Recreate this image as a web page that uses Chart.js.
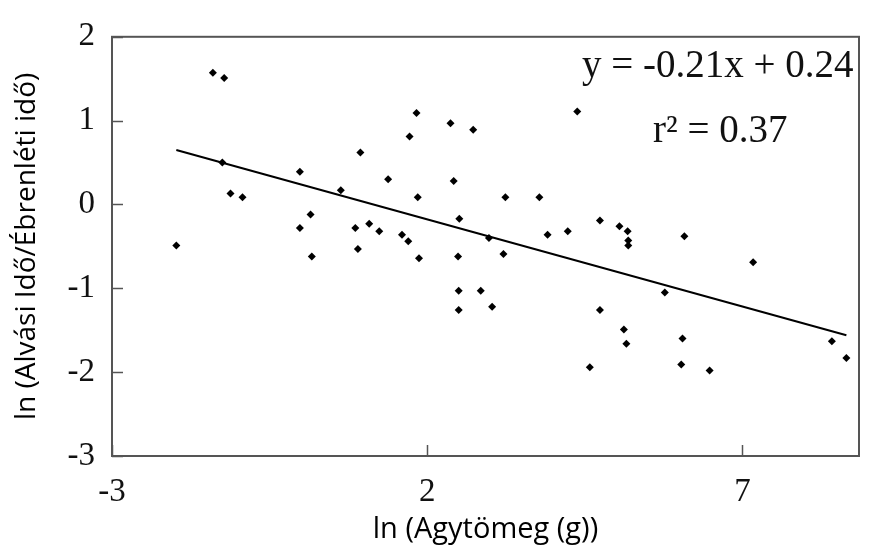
<!DOCTYPE html>
<html>
<head>
<meta charset="utf-8">
<script src="https://cdn.jsdelivr.net/npm/chart.js@4.4.1/dist/chart.umd.min.js"></script>
<style>
  body { margin: 0; background: #fff; }
  canvas { display: block; }
</style>
</head>
<body>
<canvas id="sleep-chart" width="870" height="550"></canvas>
<script>
const brainMass = [-1.98, -1.40, -1.22, -1.25, -1.12, -0.93, -0.02, -0.02, 0.15, 0.17,
    0.63, 0.94, 0.86, 0.90, 1.08, 1.24, 1.38, 1.60, 1.70, 1.72,
    1.83, 1.85, 1.87, 2.37, 2.42, 2.51, 2.49, 2.73, 2.50, 2.50,
    4.38, 3.24, 3.78, 2.98, 3.21, 3.91, 4.23, 4.74, 5.05, 5.18,
    5.19, 5.19, 6.08, 7.17, 2.85, 3.03, 5.77, 4.74, 5.12, 5.16,
    6.05, 4.58, 6.03, 6.48, 8.42, 8.65]
const sleepRatio = [-0.49, 1.57, 1.51, 0.50, 0.13, 0.085, 0.39, -0.28, -0.12, -0.62,
    0.17, 0.62, -0.28, -0.53, -0.23, -0.32, 0.30, -0.36, -0.44, 0.81,
    1.09, 0.085, -0.64, 0.97, 0.28, -0.17, -0.62, 0.89, -1.03, -1.26,
    1.11, 0.085, 0.085, -0.40, -0.59, -0.36, -0.32, -0.19, -0.26, -0.32,
    -0.43, -0.49, -0.38, -0.69, -1.03, -1.22, -1.05, -1.26, -1.49, -1.66,
    -1.60, -1.94, -1.91, -1.98, -1.63, -1.83]
const trendX = [-1.98, 8.65]
const trendY = [0.65, -1.56]
const xTicks = [-3, 2, 7]
const yTicks = [-3, -2, -1, 0, 1, 2]
const equationText = "y = -0.21x + 0.24"
const rSquaredText = "r\u00B2 = 0.37"

const serif = "'Liberation Serif', 'Times New Roman', serif"
const sans = "'Open Sans', 'Noto Sans', sans-serif"

const points = brainMass.map((x, i) => ({ x: x, y: sleepRatio[i] }))
const trend = trendX.map((x, i) => ({ x: x, y: trendY[i] }))

// inner tick marks, frame and the regression text
const framePlugin = {
    id: "frame",
    afterDatasetsDraw(chart) {
        const { ctx, chartArea: a, scales } = chart
        ctx.save()
        ctx.strokeStyle = "#555"
        ctx.lineWidth = 1.5
        yTicks.forEach(v => {
            const y = Math.round(scales.y.getPixelForValue(v)) + 0.5
            ctx.beginPath()
            ctx.moveTo(a.left, y)
            ctx.lineTo(a.left + 11, y)
            ctx.stroke()
        })
        xTicks.forEach(v => {
            const x = Math.round(scales.x.getPixelForValue(v)) + 0.5
            ctx.beginPath()
            ctx.moveTo(x, a.bottom)
            ctx.lineTo(x, a.bottom - 11)
            ctx.stroke()
        })
        ctx.lineWidth = 2
        ctx.strokeRect(a.left, a.top, a.right - a.left, a.bottom - a.top)

        ctx.fillStyle = "#111"
        ctx.font = "39px " + serif
        ctx.textAlign = "left"
        ctx.textBaseline = "alphabetic"
        ctx.fillText(equationText, 582, 77)
        ctx.fillText(rSquaredText, 653, 142)
        ctx.restore()
    }
}

new Chart(document.getElementById("sleep-chart"), {
    type: "scatter",
    data: {
        datasets: [{
            label: "adatok",
            data: points,
            pointStyle: "rectRot",
            pointRadius: 4,
            backgroundColor: "#000",
            borderColor: "#000",
            borderWidth: 0
        }, {
            type: "line",
            label: "trend",
            data: trend,
            borderColor: "#000",
            borderWidth: 2,
            pointRadius: 0,
            fill: false
        }]
    },
    options: {
        responsive: false,
        animation: false,
        layout: { padding: { top: 28, right: 11, left: 0, bottom: 0 } },
        plugins: {
            legend: { display: false },
            tooltip: { enabled: false }
        },
        scales: {
            x: {
                type: "linear",
                min: -3,
                max: 8.85,
                afterBuildTicks: s => { s.ticks = xTicks.map(v => ({ value: v })) },
                afterFit: s => { s.height = 94 },
                grid: { display: false, drawTicks: false },
                border: { display: false },
                ticks: { color: "#111", padding: 17, font: { family: serif, size: 33 } },
                title: {
                    display: true,
                    text: "ln (Agytömeg (g))",
                    color: "#000",
                    padding: { top: 0, bottom: 3 },
                    font: { family: sans, size: 29 }
                }
            },
            y: {
                type: "linear",
                min: -3,
                max: 2,
                afterBuildTicks: s => { s.ticks = yTicks.map(v => ({ value: v })) },
                afterFit: s => { s.width = 112 },
                grid: { display: false, drawTicks: false },
                border: { display: false },
                ticks: { color: "#111", padding: 17, font: { family: serif, size: 33 } },
                title: {
                    display: true,
                    text: "ln (Alvási Idő/Ébrenléti idő)",
                    color: "#000",
                    padding: { top: 10, bottom: 0 },
                    font: { family: sans, size: 28 }
                }
            }
        }
    },
    plugins: [framePlugin]
})
</script>
</body>
</html>
